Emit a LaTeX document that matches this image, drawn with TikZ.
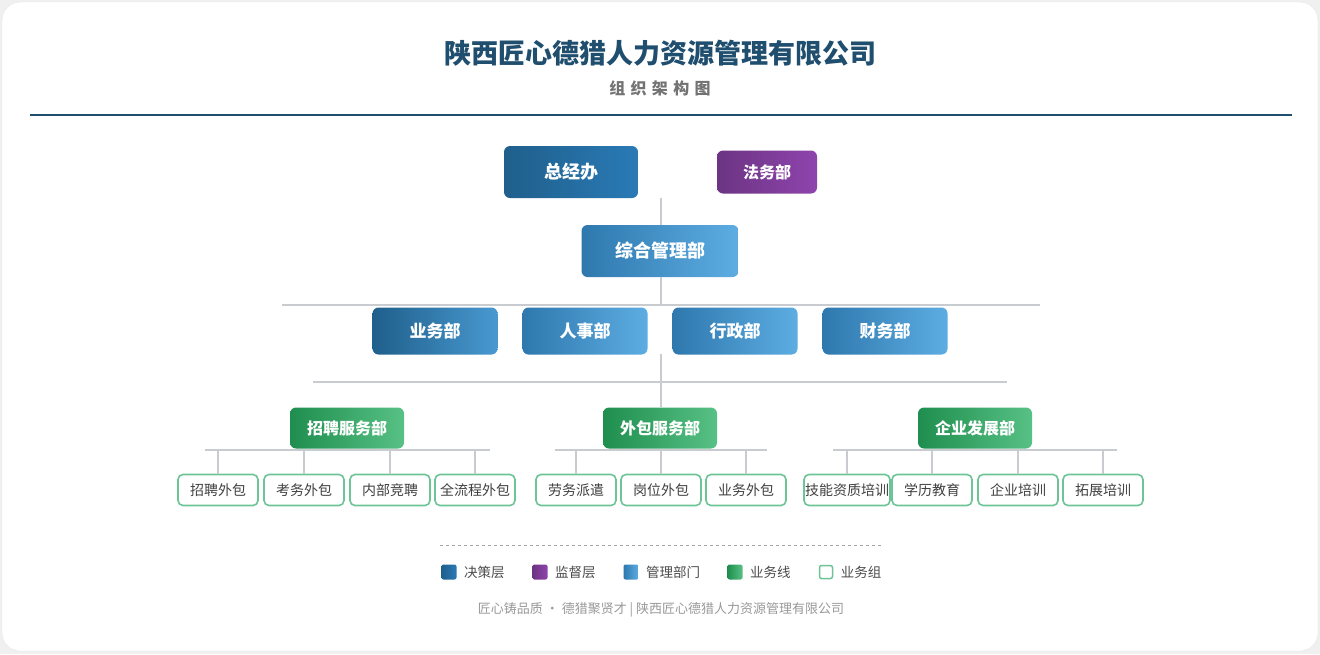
\documentclass[tikz,border=0pt]{standalone}
\usepackage{fontspec}
\setmainfont{Noto Sans CJK SC}
\usetikzlibrary{positioning}
\definecolor{tdark}{HTML}{1F4E6E}
\definecolor{lgray}{HTML}{C8CCD0}
\definecolor{bA}{HTML}{1F5F8B}
\definecolor{bB}{HTML}{2A7AB6}
\definecolor{mA}{HTML}{2E78AE}
\definecolor{mB}{HTML}{5DADE2}
\definecolor{pA}{HTML}{6C3483}
\definecolor{pB}{HTML}{8E44AD}
\definecolor{gA}{HTML}{1E8E4E}
\definecolor{gB}{HTML}{58C185}
\definecolor{gL}{HTML}{6CC497}
\tikzset{
  box/.style={rounded corners=6pt, text=white, font=\bfseries, align=center},
  jc/.style={box, left color=bA, right color=bB, minimum width=134pt, minimum height=52pt, font=\fontsize{18}{21}\selectfont\bfseries},
  jd/.style={box, left color=pA, right color=pB, minimum width=100pt, minimum height=43pt, font=\fontsize{16}{19}\selectfont\bfseries},
  gl/.style={box, left color=mA, right color=mB, minimum width=125pt, minimum height=47pt, font=\fontsize{17}{20}\selectfont\bfseries},
  yw/.style={box, left color=gA, right color=gB, minimum width=114pt, minimum height=41pt, font=\fontsize{16}{19}\selectfont\bfseries},
  zu/.style={rounded corners=5pt, draw=gL, line width=1.6pt, fill=white, text=black!75, minimum width=80pt, minimum height=31pt, inner sep=1pt, font=\fontsize{14}{16}\selectfont},
  lx/.style={draw=lgray, line width=1.6pt},
  sw/.style={rounded corners=2pt, minimum size=15pt, inner sep=0pt},
  lg/.style={right=4pt, font=\fontsize{13.5}{16}\selectfont, text=black!70}
}
\begin{document}
\begin{tikzpicture}[x=1pt,y=-1pt]
  \useasboundingbox (0,0) rectangle (1320,654);
  % Hintergrund
  \fill[black!6] (0,0) rectangle (1320,654);
  \draw[black!10, fill=white, rounded corners=18pt] (2,2) rectangle (1318,651);

  % Titel
  \node[font=\fontsize{27}{32}\selectfont\bfseries, text=tdark] (titel) at (660,53) {陕西匠心德猎人力资源管理有限公司};
  \node[font=\fontsize{16}{19}\selectfont\bfseries, text=black!55] (sub) at (660,88) {组\,\,织\,\,架\,\,构\,\,图};
  \draw[tdark, line width=2.5pt] (30,115) -- (1292,115);

  % Entscheidung
  \node[jc] (zjb) at (571,172) {总经办};
  \node[jd] (fwb) at (767,172) {法务部};
  \node[gl, minimum width=157pt, minimum height=52pt, font=\fontsize{18}{21}\selectfont\bfseries] (zh) at (660,251) {综合管理部};
  \coordinate (top) at (661,198);
  \draw[lx] (top) -- (zh.north -| top);

  % Abteilungen
  \node[gl, left color=bA, right color=mB!60!bB] (ywb) at (435,331) {业务部};
  \node[gl] (rsb) at (585,331) {人事部};
  \node[gl] (xzb) at (735,331) {行政部};
  \node[gl] (cwb) at (885,331) {财务部};
  \coordinate (busA) at (661,305);
  \draw[lx] (zh.south -| busA) -- (busA);
  \draw[lx] (282,305) -- (1040,305);

  % Geschaeftslinien
  \node[yw] (zp) at (347,428) {招聘服务部};
  \node[yw] (wb) at (660,428) {外包服务部};
  \node[yw] (qy) at (975,428) {企业发展部};
  \coordinate (busB) at (661,382);
  \draw[lx] (661,354) -- (busB);
  \draw[lx] (313,382) -- (1007,382);
  \draw[lx] (busB) -- (wb.north -| busB);

  % Gruppen
  \foreach \x/\t [count=\i] in {218/招聘外包,304/考务外包,390/内部竞聘,475/全流程外包,
      576/劳务派遣,661/岗位外包,746/业务外包,
      847/技能资质培训,932/学历教育,1018/企业培训,1103/拓展培训}{
    \node[zu] (z\i) at (\x,490) {\t};
    \coordinate (c\i) at (\x,450);
    \draw[lx] (c\i) -- (z\i);
  }
  \draw[lx] (205,450) -- (490,450);
  \draw[lx] (555,450) -- (767,450);
  \draw[lx] (833,450) -- (1117,450);

  % Legende
  \draw[black!35, dashed] (440,545) -- (882,545);
  \node[sw, left color=bA, right color=bB] (s1) at (449,572) {};
  \node[lg] at (s1.east) {决策层};
  \node[sw, left color=pA, right color=pB] (s2) at (540,572) {};
  \node[lg] at (s2.east) {监督层};
  \node[sw, left color=mA, right color=mB] (s3) at (631,572) {};
  \node[lg] at (s3.east) {管理部门};
  \node[sw, left color=gA, right color=gB] (s4) at (735,572) {};
  \node[lg] at (s4.east) {业务线};
  \node[sw, draw=gL, line width=1.5pt, minimum size=13pt] (s5) at (826,572) {};
  \node[lg] at (s5.east) {业务组};

  % Fusszeile
  \node[font=\fontsize{13}{15}\selectfont, text=black!40] (fuss) at (661,610) {匠心铸品质 · 德猎聚贤才 | 陕西匠心德猎人力资源管理有限公司};
\end{tikzpicture}
\end{document}
